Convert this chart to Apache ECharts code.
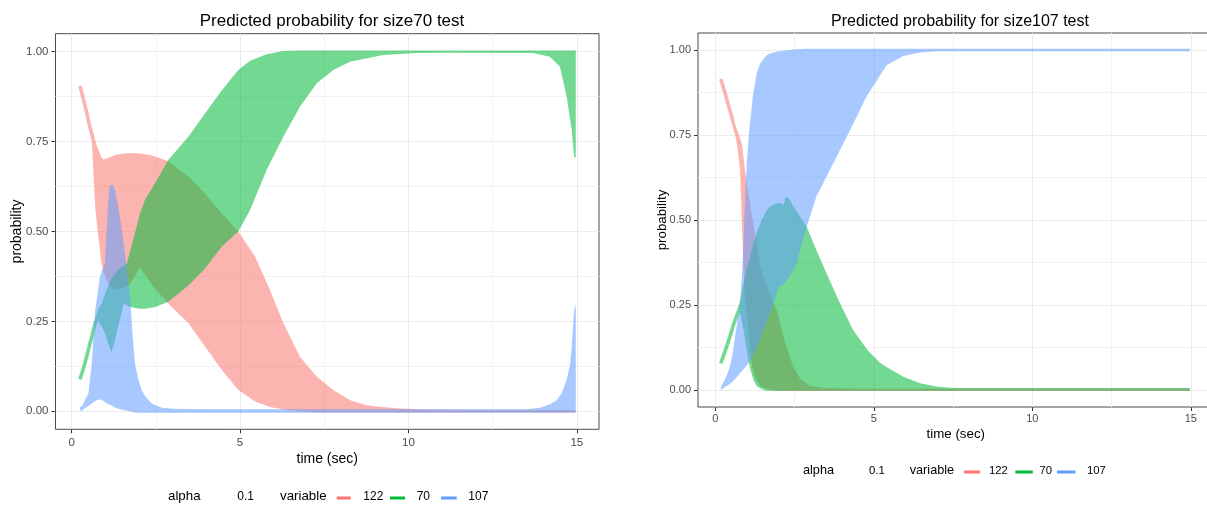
<!DOCTYPE html>
<html>
<head>
<meta charset="utf-8">
<script src="https://cdn.jsdelivr.net/npm/echarts@6/dist/echarts.min.js"></script>
<style>
html,body{margin:0;padding:0;background:#fff;}
#chart{width:1207px;height:508px;}
</style>
</head>
<body>
<div id="chart"></div>
<script>
// ---------- DATA ----------
const categories = ['122', '70', '107'];
const titles = ['Predicted probability for size70 test', 'Predicted probability for size107 test'];
const xTicks = [0, 5, 10, 15];
const yTicks = [0, 0.25, 0.5, 0.75, 1];
const xMinor = [2.5, 7.5, 12.5];
const yMinor = [0.125, 0.375, 0.625, 0.875];

// Left panel (size70 test): single-line start (lineT/lineV), then band between lo and hi
const L122_lineT = [0.25, 0.35, 0.45, 0.52, 0.6];
const L122_lineV = [0.905, 0.868, 0.83, 0.80, 0.77];
const L122_t  = [0.6, 0.65, 0.7, 0.75, 0.84, 0.89, 0.94, 1.1, 1.3, 1.5, 1.74, 2.03, 2.4, 2.87, 3.47, 3.96, 4.46, 4.95, 5.45, 5.89, 6.29, 6.78, 7.28, 7.77, 8.27, 8.76, 9.3, 9.8, 10.5, 12, 14, 14.97];
const L122_hi = [0.79, 0.772, 0.755, 0.738, 0.717, 0.706, 0.70, 0.705, 0.713, 0.716, 0.718, 0.717, 0.711, 0.695, 0.652, 0.606, 0.55, 0.50, 0.43, 0.337, 0.245, 0.152, 0.096, 0.059, 0.031, 0.017, 0.011, 0.008, 0.005, 0.004, 0.004, 0.004];
const L122_lo = [0.75, 0.66, 0.57, 0.52, 0.45, 0.41, 0.39, 0.35, 0.34, 0.34, 0.355, 0.40, 0.35, 0.30, 0.245, 0.18, 0.115, 0.059, 0.027, 0.012, 0.005, 0.0, -0.003, -0.003, -0.003, -0.003, -0.003, -0.003, -0.003, -0.003, -0.003, -0.003];

const L70_lineT = [0.25, 0.4, 0.55, 0.7, 0.79];
const L70_lineV = [0.089, 0.135, 0.19, 0.245, 0.267];
const L70_t  = [0.79, 0.9, 1.0, 1.1, 1.18, 1.27, 1.35, 1.45, 1.55, 1.64, 1.75, 1.88, 2.03, 2.18, 2.48, 2.87, 3.47, 3.96, 4.46, 4.95, 5.3, 5.79, 6.29, 6.78, 7.28, 7.77, 8.27, 9.25, 10.25, 11.2, 13.7, 14.2, 14.5, 14.7, 14.85, 14.92, 14.97];
const L70_hi = [0.285, 0.30, 0.33, 0.35, 0.37, 0.38, 0.39, 0.40, 0.405, 0.41, 0.45, 0.495, 0.55, 0.588, 0.634, 0.699, 0.764, 0.828, 0.893, 0.949, 0.975, 0.993, 1.002, 1.003, 1.003, 1.003, 1.003, 1.003, 1.003, 1.003, 1.003, 1.003, 1.003, 1.003, 1.003, 1.003, 1.003];
const L70_lo = [0.25, 0.235, 0.215, 0.185, 0.165, 0.19, 0.225, 0.26, 0.30, 0.295, 0.29, 0.287, 0.285, 0.285, 0.29, 0.305, 0.35, 0.397, 0.458, 0.50, 0.56, 0.671, 0.764, 0.847, 0.912, 0.949, 0.972, 0.991, 0.996, 0.997, 0.996, 0.986, 0.958, 0.875, 0.782, 0.708, 0.705];

const L107_lineT = [];
const L107_lineV = [];
const L107_t  = [0.25, 0.3, 0.35, 0.5, 0.6, 0.69, 0.79, 0.84, 0.92, 0.99, 1.05, 1.1, 1.14, 1.22, 1.29, 1.4, 1.49, 1.57, 1.64, 1.74, 1.8, 1.88, 1.98, 2.08, 2.2, 2.38, 2.68, 3.0, 4, 13.5, 13.9, 14.2, 14.4, 14.55, 14.7, 14.8, 14.85, 14.92, 14.97];
const L107_hi = [0.012, 0.013, 0.022, 0.05, 0.133, 0.272, 0.34, 0.374, 0.395, 0.41, 0.52, 0.6, 0.628, 0.63, 0.615, 0.56, 0.504, 0.45, 0.393, 0.319, 0.226, 0.133, 0.09, 0.059, 0.04, 0.022, 0.01, 0.007, 0.006, 0.006, 0.01, 0.02, 0.031, 0.05, 0.087, 0.13, 0.18, 0.28, 0.298];
const L107_lo = [0.004, 0.001, 0.006, 0.015, 0.022, 0.028, 0.033, 0.033, 0.03, 0.026, 0.022, 0.02, 0.018, 0.014, 0.01, 0.007, 0.005, 0.003, 0.002, 0.0, -0.002, -0.003, -0.004, -0.004, -0.004, -0.004, -0.004, -0.004, -0.004, -0.004, -0.004, -0.004, -0.004, -0.004, -0.004, -0.004, -0.004, -0.004, -0.004];

// Right panel (size107 test)
const R122_lineT = [0.17, 0.3, 0.45, 0.57];
const R122_lineV = [0.915, 0.875, 0.825, 0.785];
const R122_t  = [0.57, 0.65, 0.7, 0.78, 0.83, 0.88, 0.93, 1.0, 1.04, 1.1, 1.14, 1.25, 1.41, 1.6, 1.8, 1.95, 2.2, 2.45, 2.7, 3.0, 3.5, 4.5, 8, 14.97];
const R122_hi = [0.80, 0.775, 0.762, 0.74, 0.725, 0.69, 0.65, 0.60, 0.575, 0.55, 0.52, 0.46, 0.37, 0.31, 0.26, 0.23, 0.14, 0.07, 0.03, 0.012, 0.006, 0.004, 0.004, 0.004];
const R122_lo = [0.767, 0.74, 0.71, 0.647, 0.51, 0.373, 0.275, 0.21, 0.176, 0.12, 0.078, 0.039, 0.012, 0.004, -0.001, -0.003, -0.003, -0.003, -0.003, -0.003, -0.003, -0.003, -0.003, -0.003];

const R70_lineT = [0.17, 0.4, 0.6, 0.78];
const R70_lineV = [0.078, 0.14, 0.2, 0.245];
const R70_t  = [0.78, 0.9, 1.0, 1.09, 1.2, 1.3, 1.46, 1.6, 1.72, 1.9, 2.04, 2.15, 2.22, 2.35, 2.46, 2.67, 2.88, 3.19, 3.51, 3.93, 4.35, 4.8, 5.19, 5.4, 5.93, 6.46, 6.98, 7.5, 14.97];
const R70_hi = [0.262, 0.32, 0.36, 0.39, 0.43, 0.46, 0.50, 0.525, 0.54, 0.548, 0.55, 0.545, 0.569, 0.56, 0.54, 0.51, 0.48, 0.41, 0.343, 0.255, 0.176, 0.118, 0.08, 0.068, 0.039, 0.02, 0.01, 0.006, 0.006];
const R70_lo = [0.23, 0.17, 0.11, 0.065, 0.03, 0.012, 0.003, -0.002, -0.002, -0.002, -0.002, -0.002, -0.002, -0.002, -0.002, -0.002, -0.002, -0.002, -0.002, -0.002, -0.002, -0.002, -0.002, -0.002, -0.002, -0.002, -0.002, -0.002, -0.002];

const R107_lineT = [];
const R107_lineV = [];
const R107_t  = [0.17, 0.3, 0.41, 0.48, 0.55, 0.65, 0.72, 0.78, 0.86, 0.92, 0.99, 1.07, 1.18, 1.3, 1.41, 1.62, 1.8, 1.99, 2.14, 2.35, 2.56, 2.88, 3.19, 3.72, 4.25, 4.77, 5.19, 5.4, 5.93, 6.46, 6.98, 8, 14.97];
const R107_hi = [0.008, 0.03, 0.055, 0.078, 0.11, 0.176, 0.22, 0.255, 0.37, 0.52, 0.667, 0.765, 0.863, 0.93, 0.96, 0.985, 0.992, 0.996, 0.998, 1.0, 1.002, 1.004, 1.004, 1.004, 1.004, 1.004, 1.004, 1.004, 1.004, 1.004, 1.004, 1.004, 1.004];
const R107_lo = [0.0, 0.008, 0.015, 0.02, 0.025, 0.035, 0.042, 0.05, 0.058, 0.065, 0.072, 0.082, 0.1, 0.125, 0.15, 0.2, 0.245, 0.3, 0.31, 0.335, 0.373, 0.48, 0.57, 0.667, 0.765, 0.863, 0.925, 0.955, 0.982, 0.993, 0.996, 0.996, 0.996];

// ---------- STYLE ----------
const FONT = 'Liberation Sans, Arial, sans-serif';
const palette = {'122': '#F8766D', '70': '#00BA38', '107': '#619CFF'};
const ALPHA = 0.55;
const LINE_W = 3.6;
function rgba(hex, a) {
  const n = parseInt(hex.slice(1), 16);
  return 'rgba(' + ((n >> 16) & 255) + ',' + ((n >> 8) & 255) + ',' + (n & 255) + ',' + a + ')';
}

// One filled shape per variable: a thick single line part followed by the oscillation band
function bandSeries(name, gi, LT, LV, T, LO, HI) {
  const data = LT.map((t, i) => [t, LV[i], LV[i]]).concat(T.map((t, i) => [t, LO[i], HI[i]]));
  return {
    type: 'custom', name: name, coordinateSystem: 'cartesian2d',
    xAxisIndex: gi, yAxisIndex: gi, silent: true, animation: false,
    data: data, encode: {x: 0, y: [1, 2]},
    renderItem: function (params, api) {
      if (params.dataIndex !== 0) return null;
      const lp = LT.map((t, i) => api.coord([t, LV[i]]));
      const up = [], dn = [];
      const hw = LINE_W / 2;
      for (let i = 0; i < lp.length; i++) {
        const a = lp[Math.max(0, i - 1)], b = lp[Math.min(lp.length - 1, i + 1)];
        let dx = b[0] - a[0], dy = b[1] - a[1];
        const len = Math.hypot(dx, dy) || 1;
        dx /= len; dy /= len;
        const nx = -dy, ny = dx;
        up.push([lp[i][0] - nx * hw, lp[i][1] - ny * hw]);
        dn.push([lp[i][0] + nx * hw, lp[i][1] + ny * hw]);
      }
      const pts = up.slice();
      for (let i = 0; i < T.length; i++) pts.push(api.coord([T[i], HI[i]]));
      for (let i = T.length - 1; i >= 0; i--) pts.push(api.coord([T[i], LO[i]]));
      for (let i = dn.length - 1; i >= 0; i--) pts.push(dn[i]);
      return {type: 'polygon', shape: {points: pts}, style: {fill: rgba(palette[name], ALPHA), stroke: null}};
    }
  };
}

const panels = [
  {grid: {left: 55.5, top: 33.7, width: 543.5, height: 395.6}, xmin: -0.478, xmax: 15.66, fs: 11.5, nfs: 14, tfs: 17, tx: 327, ty: 7.5, nameGapX: 23, nameGapY: 31, lm: 8},
  {grid: {left: 698, top: 33, width: 515.6, height: 374}, xmin: -0.549, xmax: 15.72, fs: 11, nfs: 13.3, tfs: 16, tx: 955, ty: 8.5, nameGapX: 21, nameGapY: 29, lm: 6}
];

const grids = [], xAxes = [], yAxes = [], titleList = [];
panels.forEach((p, gi) => {
  grids.push(Object.assign({show: true, borderColor: '#4a4a4a', borderWidth: 1, backgroundColor: '#fff',
    containLabel: false, outerBoundsMode: 'none'}, p.grid));
  titleList.push({text: titles[gi], left: p.tx, top: p.ty, textAlign: 'center',
    textStyle: {fontFamily: FONT, fontSize: p.tfs, fontWeight: 'normal', color: '#000'}});
  xAxes.push({
    type: 'value', gridIndex: gi, min: p.xmin, max: p.xmax, position: 'bottom',
    name: 'time (sec)', nameLocation: 'middle', nameGap: p.nameGapX, nameMoveOverlap: false,
    nameTextStyle: {fontFamily: FONT, fontSize: p.nfs, color: '#000', verticalAlign: 'top'},
    axisLine: {show: false, onZero: false},
    axisTick: {show: true, length: 4, lineStyle: {color: '#333'}, customValues: xTicks},
    axisLabel: {customValues: xTicks, fontFamily: FONT, fontSize: p.fs, color: '#4D4D4D', margin: p.lm, formatter: v => String(v)},
    splitLine: {show: true, lineStyle: {color: '#EBEBEB', width: 1}}
  });
  yAxes.push({
    type: 'value', gridIndex: gi, min: -0.05, max: 1.05, position: 'left',
    name: 'probability', nameLocation: 'middle', nameGap: p.nameGapY, nameMoveOverlap: false,
    nameTextStyle: {fontFamily: FONT, fontSize: p.nfs, color: '#000'},
    axisLine: {show: false, onZero: false},
    axisTick: {show: true, length: 4, lineStyle: {color: '#333'}, customValues: yTicks},
    axisLabel: {customValues: yTicks, fontFamily: FONT, fontSize: p.fs, color: '#4D4D4D', margin: 7, formatter: v => v.toFixed(2)},
    splitLine: {show: true, lineStyle: {color: '#EBEBEB', width: 1}}
  });
});
// minor grid axes
panels.forEach((p, gi) => {
  xAxes.push({type: 'value', gridIndex: gi, min: p.xmin, max: p.xmax, position: 'top',
    axisLine: {show: false, onZero: false}, axisLabel: {show: false}, axisTick: {show: false, customValues: xMinor},
    splitLine: {show: true, lineStyle: {color: '#F2F2F2', width: 1}}});
  yAxes.push({type: 'value', gridIndex: gi, min: -0.05, max: 1.05, position: 'right',
    axisLine: {show: false, onZero: false}, axisLabel: {show: false}, axisTick: {show: false, customValues: yMinor},
    splitLine: {show: true, lineStyle: {color: '#F2F2F2', width: 1}}});
});

const series = [
  bandSeries('122', 0, L122_lineT, L122_lineV, L122_t, L122_lo, L122_hi),
  bandSeries('70', 0, L70_lineT, L70_lineV, L70_t, L70_lo, L70_hi),
  bandSeries('107', 0, L107_lineT, L107_lineV, L107_t, L107_lo, L107_hi),
  bandSeries('122', 1, R122_lineT, R122_lineV, R122_t, R122_lo, R122_hi),
  bandSeries('70', 1, R70_lineT, R70_lineV, R70_t, R70_lo, R70_hi),
  bandSeries('107', 1, R107_lineT, R107_lineV, R107_t, R107_lo, R107_hi)
];

// legends (ggplot style) drawn as graphic text + key swatches
const legendLayouts = [
  {cy: 498, fsT: 13.3, fsL: 12, alphaX: 168, valX: 237.3, varX: 280, keys: [[336.7, 14, 363.3], [390, 15, 416.7], [441, 15.7, 468.3]]},
  {cy: 472, fsT: 12.7, fsL: 11.3, alphaX: 803, valX: 869, varX: 909.7, keys: [[964, 16, 989], [1015.4, 17.4, 1039.4], [1057, 18.4, 1087]]}
];
const graphic = [];
legendLayouts.forEach(L => {
  const ts = (x, txt, fs) => ({type: 'text', left: x, top: L.cy - fs * 0.6, silent: true,
    style: {text: txt, fontFamily: FONT, fontSize: fs, fill: '#000'}});
  graphic.push(ts(L.alphaX, 'alpha', L.fsT));
  graphic.push(ts(L.valX, '0.1', L.fsL));
  graphic.push(ts(L.varX, 'variable', L.fsT));
  categories.forEach((c, i) => {
    const k = L.keys[i];
    graphic.push({type: 'rect', left: k[0], top: L.cy - 1.5, silent: true, shape: {width: k[1], height: 3}, style: {fill: palette[c]}});
    graphic.push(ts(k[2], c, L.fsL));
  });
});

const chart = echarts.init(document.getElementById('chart'), null, {renderer: 'canvas'});
chart.setOption({
  backgroundColor: '#fff',
  animation: false,
  title: titleList,
  grid: grids,
  xAxis: xAxes,
  yAxis: yAxes,
  series: series,
  graphic: graphic
});
</script>
</body>
</html>
